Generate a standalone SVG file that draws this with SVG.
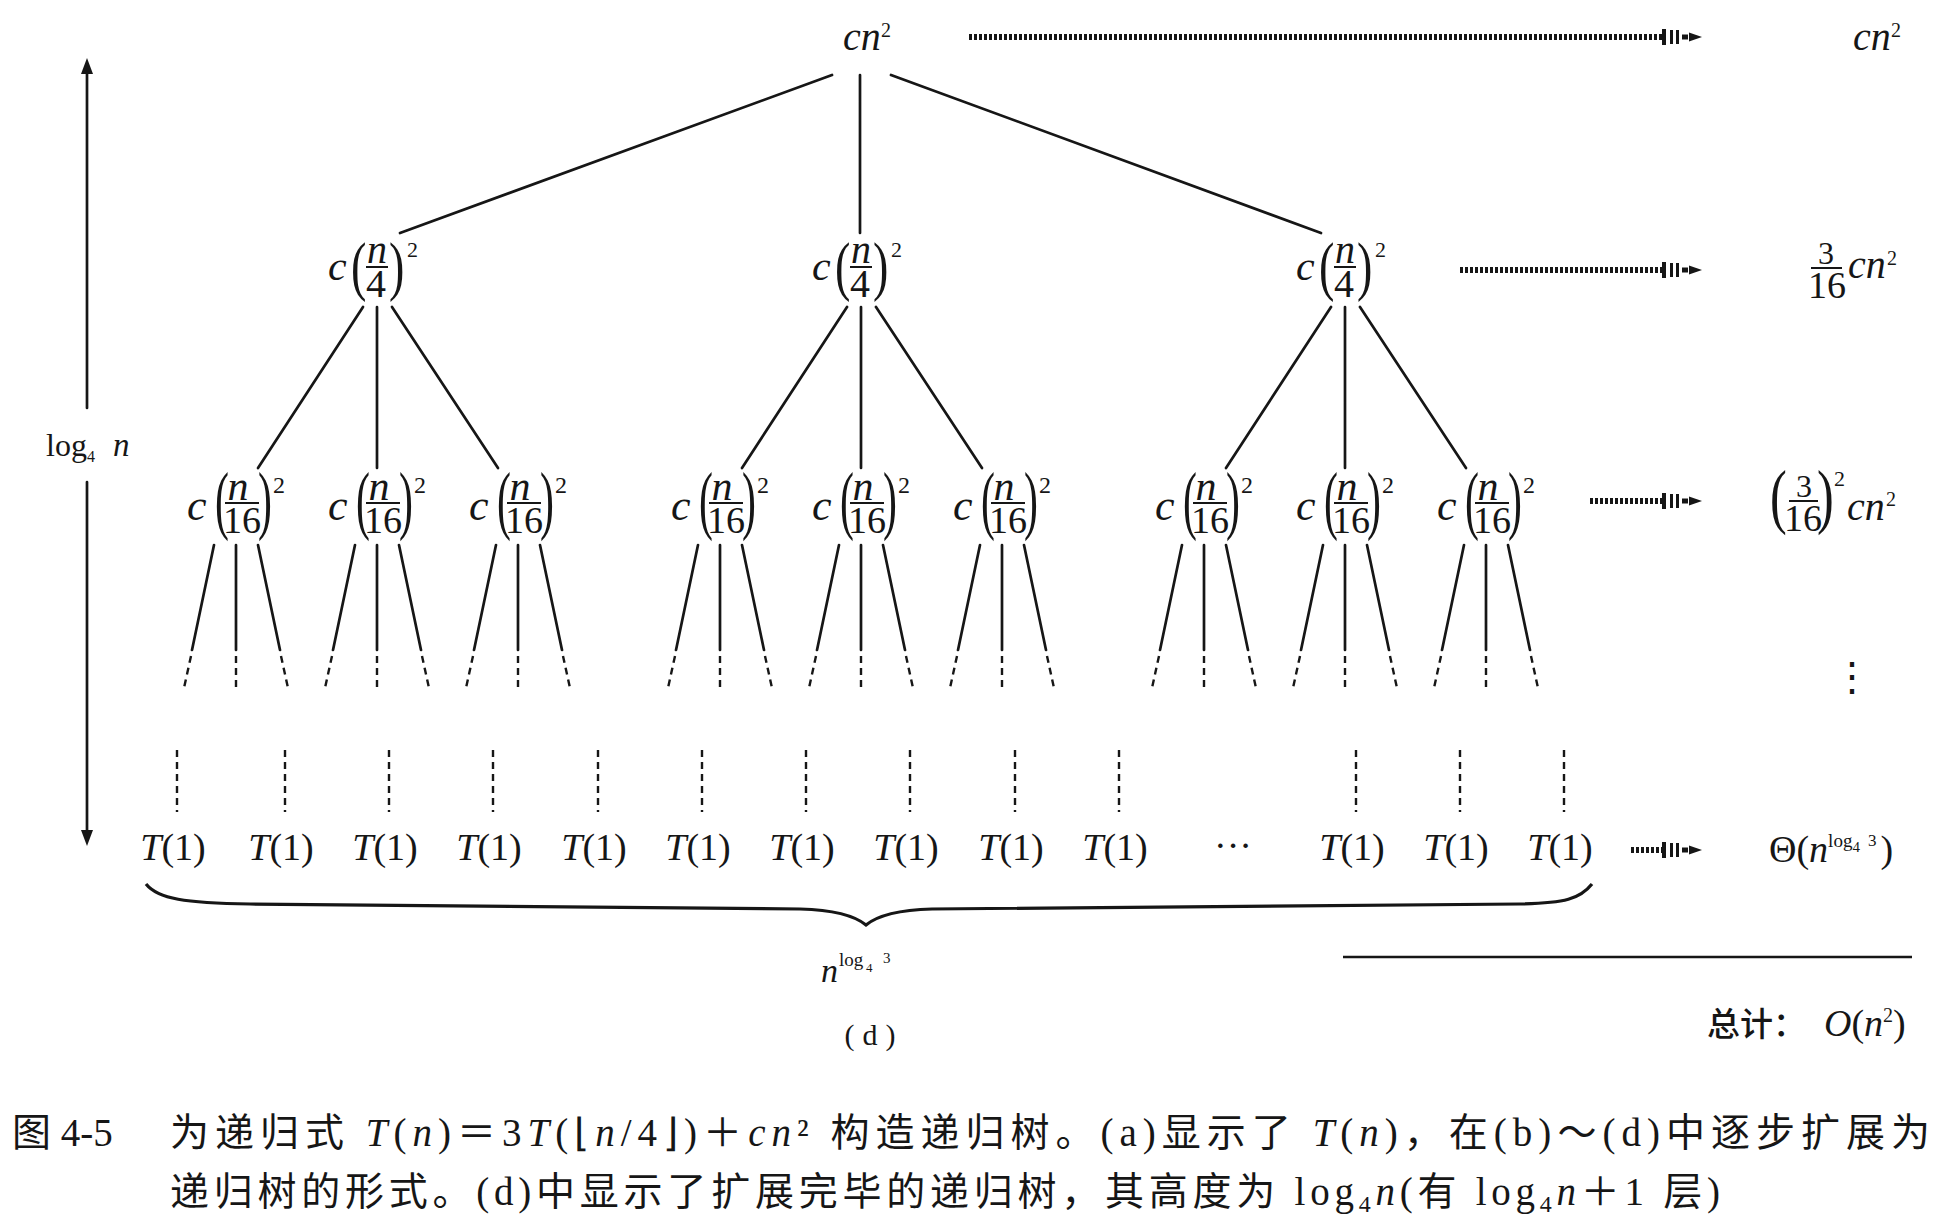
<svg xmlns="http://www.w3.org/2000/svg" width="1940" height="1226" viewBox="0 0 1940 1226">
<style>
.ln{stroke:#161616;stroke-width:2.7;fill:none;stroke-linecap:round}
.dsh{stroke:#161616;stroke-width:2.4;fill:none;stroke-dasharray:7 5}
.dot{stroke:#161616;stroke-width:6;fill:none;stroke-dasharray:3 2}
.bar{stroke:#161616;stroke-width:2}
.mi{font-family:"Liberation Serif",serif;font-style:italic;fill:#161616}
.mr{font-family:"Liberation Serif",serif;fill:#161616}
.cap{font-family:"Liberation Serif","Noto Sans CJK SC",serif;fill:#161616}
.cjk{font-family:"Noto Sans CJK SC",sans-serif;fill:#161616}
.i{font-style:italic}
</style>
<defs>
<marker id="tri" viewBox="0 0 16 12" refX="2" refY="6" markerWidth="16" markerHeight="12" markerUnits="userSpaceOnUse" orient="auto">
<path d="M0,0 L16,6 L0,12 Z" fill="#161616"/>
</marker>
<marker id="dah" viewBox="0 -10 42 20" refX="0" refY="0" markerWidth="42" markerHeight="20" markerUnits="userSpaceOnUse" orient="auto">
<rect x="0" y="-8" width="4" height="16" fill="#161616"/>
<rect x="8" y="-7" width="3" height="14" fill="#161616"/>
<rect x="14" y="-7" width="3" height="14" fill="#161616"/>
<rect x="20" y="-2.5" width="6" height="5" fill="#161616"/>
<path d="M27,-4.5 L40,0 L27,4.5 Z" fill="#161616"/>
</marker>
</defs>
<rect width="1940" height="1226" fill="#ffffff"/>

<g id="connectors">
<path class="ln" d="M832,75 L400,233 M860,75 L860,233 M891,75 L1321,233"/>
<path class="ln" d="M363,307 L258,468 M377,307 L377,468 M392,307 L498,468"/>
<path class="ln" d="M847,307 L742,468 M861,307 L861,468 M876,307 L982,468"/>
<path class="ln" d="M1331,307 L1226,468 M1345,307 L1345,468 M1360,307 L1466,468"/>
<path class="ln" d="M214,545 L192,650 M236,545 L236,650 M258,545 L280,650 M355,545 L333,650 M377,545 L377,650 M399,545 L421,650 M496,545 L474,650 M518,545 L518,650 M540,545 L562,650"/>
<path class="ln" d="M698,545 L676,650 M720,545 L720,650 M742,545 L764,650 M839,545 L817,650 M861,545 L861,650 M883,545 L905,650 M980,545 L958,650 M1002,545 L1002,650 M1024,545 L1046,650"/>
<path class="ln" d="M1182,545 L1160,650 M1204,545 L1204,650 M1226,545 L1248,650 M1323,545 L1301,650 M1345,545 L1345,650 M1367,545 L1389,650 M1464,545 L1442,650 M1486,545 L1486,650 M1508,545 L1530,650"/>
<path class="dsh" d="M191,656 L184,688 M236,656 L236,688 M281,656 L288,688 M332,656 L325,688 M377,656 L377,688 M422,656 L429,688 M473,656 L466,688 M518,656 L518,688 M563,656 L570,688"/>
<path class="dsh" d="M675,656 L668,688 M720,656 L720,688 M765,656 L772,688 M816,656 L809,688 M861,656 L861,688 M906,656 L913,688 M957,656 L950,688 M1002,656 L1002,688 M1047,656 L1054,688"/>
<path class="dsh" d="M1159,656 L1152,688 M1204,656 L1204,688 M1249,656 L1256,688 M1300,656 L1293,688 M1345,656 L1345,688 M1390,656 L1397,688 M1441,656 L1434,688 M1486,656 L1486,688 M1531,656 L1538,688"/>
<path class="dsh" d="M177,750 V812 M285,750 V812 M389,750 V812 M493,750 V812 M598,750 V812 M702,750 V812 M806,750 V812 M910,750 V812 M1015,750 V812 M1119,750 V812 M1356,750 V812 M1460,750 V812 M1564,750 V812"/>
<line class="dot" x1="969" y1="37" x2="1662" y2="37" marker-end="url(#dah)"/>
<line class="dot" x1="1460" y1="270" x2="1662" y2="270" marker-end="url(#dah)"/>
<line class="dot" x1="1590" y1="501" x2="1662" y2="501" marker-end="url(#dah)"/>
<line class="dot" x1="1631" y1="850" x2="1662" y2="850" marker-end="url(#dah)"/>
<line class="ln" x1="87" y1="408" x2="87" y2="72" marker-end="url(#tri)"/>
<line class="ln" x1="87" y1="482" x2="87" y2="832" marker-end="url(#tri)"/>
</g>

<g id="height-label">
<text class="mr" x="46" y="456" font-size="32">log</text>
<text class="mr" x="87" y="462" font-size="16">4</text>
<text class="mi" x="113" y="456" font-size="33">n</text>
</g>

<g id="root">
<text class="mi" x="843" y="50" font-size="40">cn</text>
<text class="mr" x="881" y="37" font-size="20">2</text>
</g>

<g id="n1a" transform="translate(377,0)">
<text class="mi" x="-49" y="280" font-size="42">c</text>
<text class="mr" transform="translate(-26,288) scale(0.7,1)" font-size="66">(</text>
<text class="mi" x="0" y="263" font-size="40" text-anchor="middle">n</text>
<line class="bar" x1="-11" y1="267" x2="11" y2="267"/>
<text class="mr" x="-1" y="297" font-size="40" text-anchor="middle">4</text>
<text class="mr" transform="translate(12,288) scale(0.7,1)" font-size="66">)</text>
<text class="mr" x="30" y="257" font-size="22">2</text>
</g>
<g id="n1b" transform="translate(861,0)">
<text class="mi" x="-49" y="280" font-size="42">c</text>
<text class="mr" transform="translate(-26,288) scale(0.7,1)" font-size="66">(</text>
<text class="mi" x="0" y="263" font-size="40" text-anchor="middle">n</text>
<line class="bar" x1="-11" y1="267" x2="11" y2="267"/>
<text class="mr" x="-1" y="297" font-size="40" text-anchor="middle">4</text>
<text class="mr" transform="translate(12,288) scale(0.7,1)" font-size="66">)</text>
<text class="mr" x="30" y="257" font-size="22">2</text>
</g>
<g id="n1c" transform="translate(1345,0)">
<text class="mi" x="-49" y="280" font-size="42">c</text>
<text class="mr" transform="translate(-26,288) scale(0.7,1)" font-size="66">(</text>
<text class="mi" x="0" y="263" font-size="40" text-anchor="middle">n</text>
<line class="bar" x1="-11" y1="267" x2="11" y2="267"/>
<text class="mr" x="-1" y="297" font-size="40" text-anchor="middle">4</text>
<text class="mr" transform="translate(12,288) scale(0.7,1)" font-size="66">)</text>
<text class="mr" x="30" y="257" font-size="22">2</text>
</g>

<g id="n2a" transform="translate(236,0)">
<text class="mi" x="-49" y="520" font-size="44">c</text>
<text class="mr" transform="translate(-21,524.5) scale(0.55,1)" font-size="76">(</text>
<text class="mi" x="2" y="500" font-size="42" text-anchor="middle">n</text>
<line class="bar" x1="-11" y1="503" x2="23" y2="503"/>
<text class="mr" x="6" y="533" font-size="38" text-anchor="middle">16</text>
<text class="mr" transform="translate(22,524.5) scale(0.55,1)" font-size="76">)</text>
<text class="mr" x="37" y="493" font-size="24">2</text>
</g>
<g id="n2b" transform="translate(377,0)">
<text class="mi" x="-49" y="520" font-size="44">c</text>
<text class="mr" transform="translate(-21,524.5) scale(0.55,1)" font-size="76">(</text>
<text class="mi" x="2" y="500" font-size="42" text-anchor="middle">n</text>
<line class="bar" x1="-11" y1="503" x2="23" y2="503"/>
<text class="mr" x="6" y="533" font-size="38" text-anchor="middle">16</text>
<text class="mr" transform="translate(22,524.5) scale(0.55,1)" font-size="76">)</text>
<text class="mr" x="37" y="493" font-size="24">2</text>
</g>
<g id="n2c" transform="translate(518,0)">
<text class="mi" x="-49" y="520" font-size="44">c</text>
<text class="mr" transform="translate(-21,524.5) scale(0.55,1)" font-size="76">(</text>
<text class="mi" x="2" y="500" font-size="42" text-anchor="middle">n</text>
<line class="bar" x1="-11" y1="503" x2="23" y2="503"/>
<text class="mr" x="6" y="533" font-size="38" text-anchor="middle">16</text>
<text class="mr" transform="translate(22,524.5) scale(0.55,1)" font-size="76">)</text>
<text class="mr" x="37" y="493" font-size="24">2</text>
</g>
<g id="n2d" transform="translate(720,0)">
<text class="mi" x="-49" y="520" font-size="44">c</text>
<text class="mr" transform="translate(-21,524.5) scale(0.55,1)" font-size="76">(</text>
<text class="mi" x="2" y="500" font-size="42" text-anchor="middle">n</text>
<line class="bar" x1="-11" y1="503" x2="23" y2="503"/>
<text class="mr" x="6" y="533" font-size="38" text-anchor="middle">16</text>
<text class="mr" transform="translate(22,524.5) scale(0.55,1)" font-size="76">)</text>
<text class="mr" x="37" y="493" font-size="24">2</text>
</g>
<g id="n2e" transform="translate(861,0)">
<text class="mi" x="-49" y="520" font-size="44">c</text>
<text class="mr" transform="translate(-21,524.5) scale(0.55,1)" font-size="76">(</text>
<text class="mi" x="2" y="500" font-size="42" text-anchor="middle">n</text>
<line class="bar" x1="-11" y1="503" x2="23" y2="503"/>
<text class="mr" x="6" y="533" font-size="38" text-anchor="middle">16</text>
<text class="mr" transform="translate(22,524.5) scale(0.55,1)" font-size="76">)</text>
<text class="mr" x="37" y="493" font-size="24">2</text>
</g>
<g id="n2f" transform="translate(1002,0)">
<text class="mi" x="-49" y="520" font-size="44">c</text>
<text class="mr" transform="translate(-21,524.5) scale(0.55,1)" font-size="76">(</text>
<text class="mi" x="2" y="500" font-size="42" text-anchor="middle">n</text>
<line class="bar" x1="-11" y1="503" x2="23" y2="503"/>
<text class="mr" x="6" y="533" font-size="38" text-anchor="middle">16</text>
<text class="mr" transform="translate(22,524.5) scale(0.55,1)" font-size="76">)</text>
<text class="mr" x="37" y="493" font-size="24">2</text>
</g>
<g id="n2g" transform="translate(1204,0)">
<text class="mi" x="-49" y="520" font-size="44">c</text>
<text class="mr" transform="translate(-21,524.5) scale(0.55,1)" font-size="76">(</text>
<text class="mi" x="2" y="500" font-size="42" text-anchor="middle">n</text>
<line class="bar" x1="-11" y1="503" x2="23" y2="503"/>
<text class="mr" x="6" y="533" font-size="38" text-anchor="middle">16</text>
<text class="mr" transform="translate(22,524.5) scale(0.55,1)" font-size="76">)</text>
<text class="mr" x="37" y="493" font-size="24">2</text>
</g>
<g id="n2h" transform="translate(1345,0)">
<text class="mi" x="-49" y="520" font-size="44">c</text>
<text class="mr" transform="translate(-21,524.5) scale(0.55,1)" font-size="76">(</text>
<text class="mi" x="2" y="500" font-size="42" text-anchor="middle">n</text>
<line class="bar" x1="-11" y1="503" x2="23" y2="503"/>
<text class="mr" x="6" y="533" font-size="38" text-anchor="middle">16</text>
<text class="mr" transform="translate(22,524.5) scale(0.55,1)" font-size="76">)</text>
<text class="mr" x="37" y="493" font-size="24">2</text>
</g>
<g id="n2i" transform="translate(1486,0)">
<text class="mi" x="-49" y="520" font-size="44">c</text>
<text class="mr" transform="translate(-21,524.5) scale(0.55,1)" font-size="76">(</text>
<text class="mi" x="2" y="500" font-size="42" text-anchor="middle">n</text>
<line class="bar" x1="-11" y1="503" x2="23" y2="503"/>
<text class="mr" x="6" y="533" font-size="38" text-anchor="middle">16</text>
<text class="mr" transform="translate(22,524.5) scale(0.55,1)" font-size="76">)</text>
<text class="mr" x="37" y="493" font-size="24">2</text>
</g>

<g id="leaves" class="mr" font-size="38" text-anchor="middle">
<text x="173" y="860"><tspan class="i">T</tspan>(1)</text>
<text x="281" y="860"><tspan class="i">T</tspan>(1)</text>
<text x="385" y="860"><tspan class="i">T</tspan>(1)</text>
<text x="489" y="860"><tspan class="i">T</tspan>(1)</text>
<text x="594" y="860"><tspan class="i">T</tspan>(1)</text>
<text x="698" y="860"><tspan class="i">T</tspan>(1)</text>
<text x="802" y="860"><tspan class="i">T</tspan>(1)</text>
<text x="906" y="860"><tspan class="i">T</tspan>(1)</text>
<text x="1011" y="860"><tspan class="i">T</tspan>(1)</text>
<text x="1115" y="860"><tspan class="i">T</tspan>(1)</text>
<text x="1233" y="858">···</text>
<text x="1352" y="860"><tspan class="i">T</tspan>(1)</text>
<text x="1456" y="860"><tspan class="i">T</tspan>(1)</text>
<text x="1560" y="860"><tspan class="i">T</tspan>(1)</text>
</g>

<g id="row-costs">
<text class="mi" x="1853" y="50" font-size="40">cn</text>
<text class="mr" x="1891" y="37" font-size="20">2</text>

<text class="mr" x="1826" y="264" font-size="32" text-anchor="middle">3</text>
<line class="bar" x1="1811" y1="268" x2="1842" y2="268"/>
<text class="mr" x="1827" y="298" font-size="38" text-anchor="middle">16</text>
<text class="mi" x="1848" y="278" font-size="40">cn</text>
<text class="mr" x="1887" y="265" font-size="20">2</text>

<text class="mr" transform="translate(1770,520) scale(0.7,1)" font-size="72">(</text>
<text class="mr" x="1804" y="497" font-size="32" text-anchor="middle">3</text>
<line class="bar" x1="1789" y1="501" x2="1818" y2="501"/>
<text class="mr" x="1803" y="531" font-size="38" text-anchor="middle">16</text>
<text class="mr" transform="translate(1817,520) scale(0.7,1)" font-size="72">)</text>
<text class="mr" x="1834" y="486" font-size="22">2</text>
<text class="mi" x="1847" y="520" font-size="40">cn</text>
<text class="mr" x="1886" y="506" font-size="20">2</text>

<text class="mr" x="1852" y="690" font-size="40" text-anchor="middle" font-family="DejaVu Serif, serif">⋮</text>

<text class="mr" x="1769" y="862" font-size="38">Θ(<tspan class="i">n</tspan><tspan font-size="19" dy="-15">log</tspan><tspan font-size="15" dy="5">4</tspan><tspan font-size="17" dx="8" dy="-6">3</tspan><tspan dy="16" dx="4">)</tspan></text>
</g>

<g id="brace">
<path d="M146,884 C158,899 185,903 250,904 L800,909 C834,910 854,915 866,925 C878,915 898,910 932,909 L1520,904 C1565,903 1580,899 1592,884" fill="none" stroke="#161616" stroke-width="3.2"/>
<text class="mi" x="821" y="982" font-size="34">n</text>
<text class="mr" x="839" y="966" font-size="19">log</text>
<text class="mr" x="866" y="972" font-size="13">4</text>
<text class="mr" x="883" y="963" font-size="15">3</text>
</g>

<g id="subfig-label">
<text class="mr" x="874" y="1045" font-size="30" text-anchor="middle" letter-spacing="8">(d)</text>
</g>

<g id="total">
<line x1="1343" y1="957" x2="1912" y2="957" stroke="#161616" stroke-width="2.4"/>
<text class="cjk" x="1707" y="1036" font-size="33" font-weight="500">总计：</text>
<text class="mi" x="1824" y="1036" font-size="38">O<tspan font-style="normal">(</tspan>n<tspan font-style="normal" font-size="20" dy="-14">2</tspan><tspan font-style="normal" dy="14">)</tspan></text>
</g>

<g id="caption">
<text class="cap" x="12" y="1146" font-size="39">图 4-5</text>
<text class="cap" x="170" y="1146" font-size="39" textLength="1760" lengthAdjust="spacing">为递归式 <tspan class="i">T</tspan>(<tspan class="i">n</tspan>)＝3<tspan class="i">T</tspan>(⌊<tspan class="i">n</tspan>/4⌋)＋<tspan class="i">cn</tspan>² 构造递归树。(a)显示了 <tspan class="i">T</tspan>(<tspan class="i">n</tspan>)，在(b)～(d)中逐步扩展为</text>
<text class="cap" x="170" y="1205" font-size="39" textLength="1550" lengthAdjust="spacing">递归树的形式。(d)中显示了扩展完毕的递归树，其高度为 log<tspan font-size="24" dy="7">4</tspan><tspan class="i" dy="-7">n</tspan>(有 log<tspan font-size="24" dy="7">4</tspan><tspan class="i" dy="-7">n</tspan>＋1 层)</text>
</g>
</svg>
